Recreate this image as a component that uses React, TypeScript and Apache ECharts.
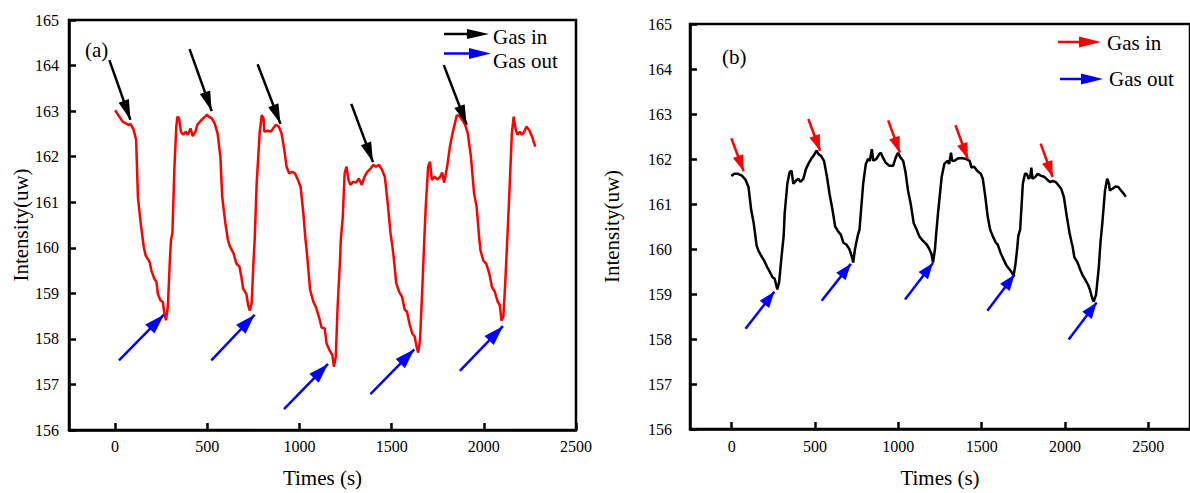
import React, { useEffect, useRef } from 'react';
import * as echarts from 'echarts';

const FONT = 'Liberation Serif';

const xTickValues = [0, 500, 1000, 1500, 2000, 2500];
const yMin = 156;
const yMax = 165;

// Panel (a): time (s), intensity (uw)
const curveA: number[][] = [
  [0, 163.02], [41, 162.77], [73, 162.7], [83, 162.72], [100, 162.6], [114, 162.37], [124, 161.1], [141, 160.47],
  [156, 160.0], [166, 159.83], [187, 159.69], [197, 159.5], [212, 159.33], [224, 159.25], [232, 158.99], [245, 158.85],
  [259, 158.81], [266, 158.59], [276, 158.41], [286, 158.7], [297, 159.72], [303, 160.16], [311, 160.33], [322, 161.78],
  [332, 162.66], [338, 162.88], [347, 162.84], [357, 162.55], [369, 162.48], [384, 162.55], [394, 162.48], [409, 162.62],
  [421, 162.45], [436, 162.55], [446, 162.7], [467, 162.8], [488, 162.88], [498, 162.92], [508, 162.88], [525, 162.84],
  [540, 162.73], [556, 162.51], [571, 162.0], [581, 161.12], [598, 160.54], [612, 160.17], [623, 160.03], [629, 159.98],
  [643, 159.87], [658, 159.65], [675, 159.58], [685, 159.36], [695, 159.1], [712, 158.99], [722, 158.73], [731, 158.62],
  [741, 158.8], [751, 159.72], [757, 160.16], [768, 161.42], [784, 162.51], [795, 162.91], [805, 162.84], [809, 162.55],
  [830, 162.57], [845, 162.55], [857, 162.62], [872, 162.7], [888, 162.66], [903, 162.51], [918, 162.15], [930, 161.78],
  [945, 161.63], [961, 161.67], [976, 161.63], [992, 161.49], [1006, 161.34], [1021, 160.76], [1033, 160.17], [1038, 160.0],
  [1058, 159.07], [1075, 158.82], [1089, 158.7], [1106, 158.48], [1120, 158.25], [1137, 158.23], [1147, 157.9], [1162, 157.76],
  [1178, 157.65], [1187, 157.39], [1197, 157.61], [1207, 158.71], [1220, 159.72], [1224, 160.16], [1235, 160.68], [1245, 161.63],
  [1255, 161.78], [1266, 161.49], [1276, 161.38], [1291, 161.45], [1307, 161.43], [1322, 161.52], [1338, 161.38], [1353, 161.56],
  [1369, 161.67], [1386, 161.74], [1400, 161.82], [1415, 161.78], [1432, 161.82], [1448, 161.71], [1463, 161.56], [1477, 161.05],
  [1494, 160.32], [1504, 160.03], [1511, 159.8], [1525, 159.22], [1540, 159.04], [1556, 158.93], [1571, 158.64], [1583, 158.6],
  [1598, 158.31], [1612, 158.12], [1625, 158.05], [1635, 157.83], [1644, 157.7], [1654, 157.98], [1666, 159.07], [1677, 160.16],
  [1685, 160.9], [1698, 161.78], [1708, 161.89], [1718, 161.49], [1733, 161.56], [1747, 161.5], [1764, 161.56], [1774, 161.65],
  [1785, 161.43], [1801, 161.78], [1816, 162.22], [1830, 162.51], [1843, 162.73], [1853, 162.91], [1868, 162.89], [1884, 162.8],
  [1899, 162.7], [1913, 162.51], [1930, 162.0], [1947, 161.2], [1961, 160.9], [1976, 160.17], [1982, 159.94], [1997, 159.72],
  [2013, 159.65], [2030, 159.43], [2044, 159.14], [2059, 159.04], [2075, 158.82], [2086, 158.75], [2096, 158.4], [2106, 158.49],
  [2117, 159.29], [2127, 160.16], [2137, 161.05], [2152, 162.51], [2162, 162.88], [2173, 162.59], [2183, 162.48], [2195, 162.55],
  [2206, 162.48], [2220, 162.55], [2231, 162.66], [2245, 162.59], [2262, 162.44], [2279, 162.22],
];

// Panel (b)
const curveB: number[][] = [
  [-2, 161.62], [16, 161.67], [38, 161.67], [61, 161.63], [83, 161.54], [101, 161.38], [117, 160.87], [132, 160.58],
  [150, 160.07], [161, 159.96], [177, 159.85], [195, 159.74], [213, 159.6], [229, 159.49], [244, 159.38], [258, 159.34],
  [274, 159.1], [285, 159.27], [296, 159.71], [312, 160.29], [318, 160.79], [334, 161.45], [348, 161.71], [359, 161.74],
  [370, 161.45], [386, 161.52], [401, 161.56], [412, 161.49], [430, 161.56], [446, 161.78], [464, 161.92], [482, 162.03],
  [498, 162.11], [509, 162.19], [520, 162.11], [536, 162.07], [554, 161.96], [572, 161.6], [587, 161.23], [605, 160.87],
  [621, 160.5], [639, 160.39], [655, 160.32], [670, 160.14], [688, 160.1], [706, 160.0], [722, 159.82], [729, 159.7],
  [740, 160.0], [756, 160.29], [767, 160.43], [789, 161.45], [805, 161.89], [818, 162.0], [829, 161.96], [841, 162.22],
  [850, 161.96], [868, 162.0], [886, 162.11], [895, 162.14], [908, 162.03], [924, 161.92], [946, 161.85], [969, 161.85],
  [984, 162.03], [998, 162.14], [1013, 162.03], [1029, 161.96], [1043, 161.71], [1058, 161.3], [1074, 161.01], [1092, 160.58],
  [1110, 160.43], [1126, 160.28], [1141, 160.21], [1159, 160.14], [1170, 160.1], [1186, 160.0], [1199, 159.89], [1208, 159.7],
  [1220, 160.0], [1226, 160.29], [1238, 160.79], [1260, 161.6], [1276, 161.89], [1294, 161.96], [1305, 161.89], [1316, 162.14],
  [1323, 161.96], [1338, 161.96], [1356, 162.01], [1383, 162.02], [1406, 162.0], [1428, 161.96], [1439, 161.81], [1455, 161.83],
  [1473, 161.74], [1495, 161.67], [1507, 161.56], [1522, 161.16], [1536, 160.72], [1551, 160.43], [1567, 160.28], [1585, 160.14],
  [1596, 160.1], [1612, 159.93], [1630, 159.78], [1648, 159.64], [1664, 159.56], [1679, 159.49], [1691, 159.4], [1702, 159.64],
  [1713, 160.0], [1720, 160.29], [1731, 160.43], [1747, 161.45], [1760, 161.67], [1771, 161.67], [1782, 161.56], [1791, 161.6],
  [1798, 161.81], [1805, 161.56], [1821, 161.6], [1836, 161.67], [1854, 161.63], [1877, 161.6], [1894, 161.54], [1910, 161.49],
  [1926, 161.51], [1944, 161.49], [1962, 161.41], [1977, 161.34], [1993, 161.16], [2011, 160.72], [2027, 160.36], [2040, 160.14],
  [2045, 160.07], [2056, 159.82], [2074, 159.71], [2089, 159.56], [2105, 159.42], [2123, 159.31], [2139, 159.2], [2150, 159.09],
  [2163, 158.91], [2172, 158.83], [2186, 158.98], [2202, 159.56], [2213, 160.15], [2224, 160.58], [2240, 161.3], [2253, 161.56],
  [2264, 161.45], [2269, 161.3], [2285, 161.34], [2303, 161.39], [2320, 161.38], [2336, 161.3], [2352, 161.23], [2365, 161.16],
];

// Annotation arrows: [start, end] in data coordinates
const gasInA: number[][][] = [
  [[-31, 164.12], [83, 162.81]],
  [[404, 164.36], [524, 163.0]],
  [[773, 164.03], [897, 162.72]],
  [[1281, 163.16], [1399, 161.88]],
  [[1783, 164.01], [1907, 162.7]],
];
const gasOutA: number[][][] = [
  [[21, 157.53], [265, 158.53]],
  [[522, 157.53], [757, 158.53]],
  [[916, 156.46], [1155, 157.45]],
  [[1385, 156.79], [1623, 157.77]],
  [[1870, 157.3], [2104, 158.28]],
];
const gasInB: number[][][] = [
  [[-2, 162.46], [72, 161.73]],
  [[460, 162.89], [531, 162.18]],
  [[939, 162.86], [1009, 162.14]],
  [[1343, 162.75], [1417, 162.0]],
  [[1854, 162.34], [1926, 161.6]],
];
const gasOutB: number[][][] = [
  [[83, 158.23], [256, 159.05]],
  [[540, 158.85], [715, 159.67]],
  [[1040, 158.88], [1208, 159.69]],
  [[1534, 158.63], [1697, 159.43]],
  [[2022, 157.99], [2190, 158.81]],
];

function arrows(list: number[][][], color: string, w: number, h: number) {
  return list.map(([s, e]) => [
    { coord: s, symbol: 'none', lineStyle: { color, width: 2.5, type: 'solid' } },
    { coord: e, symbol: 'triangle', symbolSize: [w, h], symbolOffset: [0, h / 2] },
  ]);
}

const labelText = (size: number) => ({ fontFamily: FONT, fontSize: size, color: '#000', fontWeight: 'normal' as const });

function xAxisCfg(gridIndex: number, max: number, gap: number, margin: number) {
  return {
    type: 'value', gridIndex, min: -250, max,
    name: 'Times (s)', nameLocation: 'middle', nameGap: gap,
    nameTextStyle: labelText(21),
    axisLine: { show: true, onZero: false, lineStyle: { color: '#000', width: 2.5 } },
    axisTick: { show: true, inside: true, length: 7, customValues: xTickValues, lineStyle: { color: '#000', width: 2.5 } },
    axisLabel: {
      customValues: xTickValues, ...labelText(16), margin,
      formatter: (v: number) => String(Math.round(v)),
    },
    splitLine: { show: false },
  };
}

function yAxisCfg(gridIndex: number, gap: number, margin: number) {
  return {
    type: 'value', gridIndex, min: yMin, max: yMax, interval: 1,
    name: 'Intensity(uw)', nameLocation: 'middle', nameGap: gap,
    nameTextStyle: labelText(21),
    axisLine: { show: true, onZero: false, lineStyle: { color: '#000', width: 2.5 } },
    axisTick: { show: true, inside: true, length: 7, lineStyle: { color: '#000', width: 2.5 } },
    axisLabel: { ...labelText(16), margin, formatter: (v: number) => String(Math.round(v)) },
    splitLine: { show: false },
  };
}

function txt(text: string, x: number, y: number) {
  return {
    type: 'text', x, y, silent: true,
    style: { text, fill: '#000', fontFamily: FONT, fontSize: 21, verticalAlign: 'middle', align: 'left' },
  };
}

function legendArrow(x1: number, x2: number, y: number, color: string, headLen: number, halfW: number) {
  return [
    { type: 'line', silent: true, shape: { x1, y1: y, x2: x2 - headLen + 2, y2: y }, style: { stroke: color, lineWidth: 2.5 } },
    { type: 'polygon', silent: true, shape: { points: [[x2 - headLen, y - halfW], [x2, y], [x2 - headLen, y + halfW]] }, style: { fill: color } },
  ];
}

export default function App() {
  const ref = useRef<HTMLDivElement>(null);
  useEffect(() => {
    if (!ref.current) return;
    const chart = echarts.init(ref.current, undefined, { renderer: 'svg' });
    chart.setOption({
      animation: false,
      backgroundColor: '#fff',
      textStyle: { fontFamily: FONT },
      grid: [
        { left: 69, top: 20, width: 507, height: 410, show: true, borderColor: '#000', borderWidth: 2.5 },
        { left: 690, top: 24, width: 511, height: 412, show: true, borderColor: '#000', borderWidth: 2.5 },
      ],
      xAxis: [xAxisCfg(0, 2500, 37, 8), xAxisCfg(1, 2750, 38, 9)],
      yAxis: [yAxisCfg(0, 38, 10), yAxisCfg(1, 68, 18)],
      series: [
        {
          type: 'line', xAxisIndex: 0, yAxisIndex: 0, data: curveA, symbol: 'none', showSymbol: false, silent: true,
          lineStyle: { color: '#ff0000', width: 2.5 },
          markLine: {
            silent: true, animation: false, label: { show: false }, emphasis: { disabled: true },
            data: [...arrows(gasInA, '#000000', 11, 20), ...arrows(gasOutA, '#0000ff', 13, 20)],
          },
        },
        {
          type: 'line', xAxisIndex: 1, yAxisIndex: 1, data: curveB, symbol: 'none', showSymbol: false, silent: true,
          lineStyle: { color: '#000000', width: 2.5 },
          markLine: {
            silent: true, animation: false, label: { show: false }, emphasis: { disabled: true },
            data: [...arrows(gasInB, '#ff0000', 11, 16), ...arrows(gasOutB, '#0000ff', 12, 16)],
          },
        },
      ],
      graphic: [
        txt('(a)', 85, 50),
        txt('(b)', 722, 57),
        ...legendArrow(444, 489, 34, '#000000', 22, 5),
        txt('Gas in', 493, 37),
        ...legendArrow(444, 491, 53.5, '#0000ff', 22, 5.5),
        txt('Gas out', 493, 61),
        ...legendArrow(1058, 1101, 42, '#ff0000', 22, 5.5),
        txt('Gas in', 1107, 43),
        ...legendArrow(1060, 1103, 79, '#0000ff', 22, 5.5),
        txt('Gas out', 1109, 79),
      ],
    });
    return () => chart.dispose();
  }, []);
  return <div ref={ref} style={{ position: 'absolute', left: 0, top: 0, width: 1190, height: 493 }} />;
}
